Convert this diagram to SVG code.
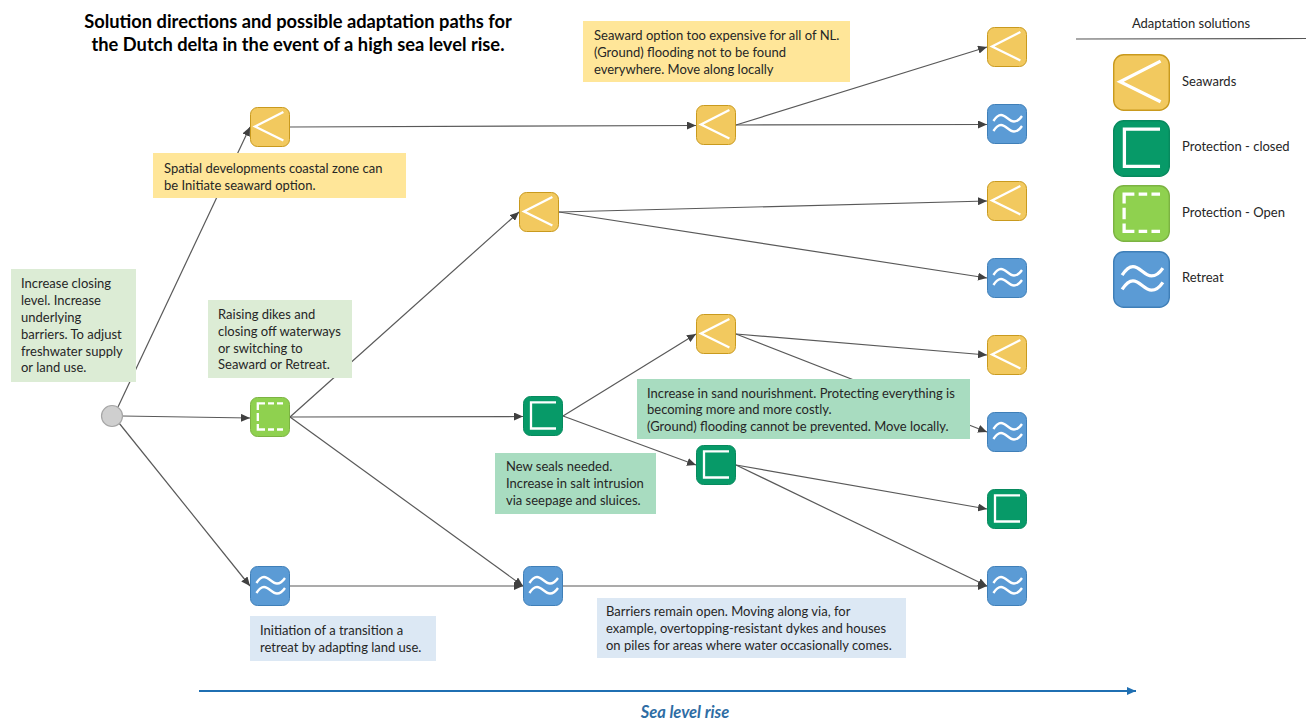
<svg xmlns="http://www.w3.org/2000/svg" xmlns:xlink="http://www.w3.org/1999/xlink" width="1306" height="720" viewBox="0 0 1306 720">
<style>
text{font-family:Lato,Carlito,"Noto Sans",sans-serif;font-size:13px;fill:#262626}
.title{font-size:18.300px;font-weight:700;fill:#000;text-anchor:middle}
.c line{stroke:#595959;stroke-width:1.2;marker-end:url(#a)}
.g{fill:none;stroke:#fff;stroke-width:2.3}
.box-y{fill:#ffe699}.box-g{fill:#dcecd5}.box-t{fill:#a8dcc0}.box-b{fill:#dce8f4}
</style>
<defs>
<marker id="a" markerWidth="10" markerHeight="8" refX="9" refY="4" orient="auto" markerUnits="userSpaceOnUse"><path d="M0 0L9 4L0 8Z" fill="#404040"/></marker>
<marker id="b" markerWidth="10" markerHeight="8" refX="9" refY="4" orient="auto" markerUnits="userSpaceOnUse"><path d="M0 0L9 4L0 8Z" fill="#1f6fb2"/></marker>
<symbol id="sea" viewBox="0 0 40 40" overflow="visible"><rect x=".5" y=".5" width="39" height="39" rx="7" fill="#f2c95f" stroke="#c99a1e"/><path class="g" d="M33.400 5L5 19.500L33.400 33.500"/></symbol>
<symbol id="closed" viewBox="0 0 40 40" overflow="visible"><rect x=".5" y=".5" width="39" height="39" rx="7" fill="#079a68" stroke="#078a5e"/><path class="g" d="M33 6.400H8V32.500H33"/></symbol>
<symbol id="open" viewBox="0 0 40 40" overflow="visible"><rect x=".5" y=".5" width="39" height="39" rx="7" fill="#8fd14f" stroke="#7cb342"/><path class="g" d="M33 6.400H27M24 6.400H18M15 6.400H7.800V13M7.800 16V24M7.800 27V32.500H15M18 32.500H24M27 32.500H33"/></symbol>
<symbol id="retreat" viewBox="0 0 40 40" overflow="visible"><rect x=".5" y=".5" width="39" height="39" rx="7" fill="#5b9bd5" stroke="#3f7fb8"/><path class="g" d="M6.400 17C9 13 11 11 14 11C19 11 22 17.500 27 17.500C30 17.500 33 15 35 12M6.400 27C9 23 11 21 14 21C19 21 22 27.500 27 27.500C30 27.500 33 25 35 22"/></symbol>
</defs>
<rect width="1306" height="720" fill="#fff"/>
<g id="title"><text class="title" x="298" y="28">Solution directions and possible adaptation paths for</text><text class="title" x="298" y="51">the Dutch delta in the event of a high sea level rise.</text></g>
<g id="connectors" class="c">
<line x1="118" y1="407" x2="250" y2="127"/>
<line x1="122" y1="416" x2="250" y2="418"/>
<line x1="119" y1="423" x2="250" y2="586"/>
<line x1="290" y1="127" x2="696" y2="125.500"/>
<line x1="736" y1="125" x2="987" y2="47"/>
<line x1="736" y1="125" x2="987" y2="124.500"/>
<line x1="290" y1="417" x2="519" y2="212"/>
<line x1="290" y1="417" x2="523" y2="416.500"/>
<line x1="290" y1="417" x2="523" y2="586"/>
<line x1="559" y1="212" x2="987" y2="201"/>
<line x1="559" y1="212" x2="987" y2="278"/>
<line x1="563" y1="416" x2="696" y2="334"/>
<line x1="563" y1="416" x2="696" y2="465"/>
<line x1="736" y1="334" x2="987" y2="355"/>
<line x1="736" y1="334" x2="987" y2="432"/>
<line x1="736" y1="465" x2="987" y2="509"/>
<line x1="736" y1="465" x2="987" y2="586"/>
<line x1="290" y1="586" x2="523" y2="586"/>
<line x1="563" y1="586" x2="987" y2="586"/>
</g>
<g id="note-increase"><rect class="box-g" x="11" y="269" width="125" height="113"/><text x="21" y="288">Increase closing</text><text x="21" y="305">level. Increase</text><text x="21" y="322">underlying</text><text x="21" y="339">barriers. To adjust</text><text x="21" y="356">freshwater supply</text><text x="21" y="372">or land use.</text></g>
<g id="note-spatial"><rect class="box-y" x="153" y="153" width="253" height="45"/><text x="164" y="173">Spatial developments coastal zone can</text><text x="164" y="190">be Initiate seaward option.</text></g>
<g id="note-raising"><rect class="box-g" x="208" y="300" width="144" height="78"/><text x="218" y="319">Raising dikes and</text><text x="218" y="336">closing off waterways</text><text x="218" y="353">or switching to</text><text x="218" y="369">Seaward or Retreat.</text></g>
<g id="note-seaward"><rect class="box-y" x="583" y="21" width="267" height="61"/><text x="594" y="40">Seaward option too expensive for all of NL.</text><text x="594" y="57">(Ground) flooding not to be found</text><text x="594" y="74">everywhere. Move along locally</text></g>
<g id="note-sand"><rect class="box-t" x="637" y="379" width="333" height="60"/><text x="647" y="398">Increase in sand nourishment. Protecting everything is</text><text x="647" y="414">becoming more and more costly.</text><text x="647" y="431">(Ground) flooding cannot be prevented. Move locally.</text></g>
<g id="note-seals"><rect class="box-t" x="495" y="453" width="161" height="61"/><text x="506" y="471">New seals needed.</text><text x="506" y="488">Increase in salt intrusion</text><text x="506" y="505">via seepage and sluices.</text></g>
<g id="note-transition"><rect class="box-b" x="250" y="616" width="186" height="45"/><text x="260" y="635">Initiation of a transition a</text><text x="260" y="652">retreat by adapting land use.</text></g>
<g id="note-barriers"><rect class="box-b" x="597" y="598" width="309" height="60"/><text x="606" y="616">Barriers remain open. Moving along via, for</text><text x="606" y="633">example, overtopping-resistant dykes and houses</text><text x="606" y="650">on piles for areas where water occasionally comes.</text></g>
<g id="start"><circle cx="112" cy="416" r="10.500" fill="#cfcfcf" stroke="#a6a6a6" stroke-width="1.200"/></g>
<g id="n1"><use href="#sea" x="250" y="107" width="40" height="40"/></g>
<g id="n2"><use href="#open" x="250" y="397" width="40" height="40"/></g>
<g id="n3"><use href="#retreat" x="250" y="566" width="40" height="40"/></g>
<g id="n4"><use href="#sea" x="696" y="105" width="40" height="40"/></g>
<g id="n5"><use href="#sea" x="519" y="192" width="40" height="40"/></g>
<g id="n6"><use href="#closed" x="523" y="396" width="40" height="40"/></g>
<g id="n7"><use href="#retreat" x="523" y="566" width="40" height="40"/></g>
<g id="n8"><use href="#sea" x="696" y="314" width="40" height="40"/></g>
<g id="n9"><use href="#closed" x="696" y="445" width="40" height="40"/></g>
<g id="n10"><use href="#sea" x="987" y="27" width="40" height="40"/></g>
<g id="n11"><use href="#retreat" x="987" y="104" width="40" height="40"/></g>
<g id="n12"><use href="#sea" x="987" y="181" width="40" height="40"/></g>
<g id="n13"><use href="#retreat" x="987" y="258" width="40" height="40"/></g>
<g id="n14"><use href="#sea" x="987" y="335" width="40" height="40"/></g>
<g id="n15"><use href="#retreat" x="987" y="412" width="40" height="40"/></g>
<g id="n16"><use href="#closed" x="987" y="489" width="40" height="40"/></g>
<g id="n17"><use href="#retreat" x="987" y="566" width="40" height="40"/></g>
<g id="legend"><text x="1191" y="28" text-anchor="middle">Adaptation solutions</text><line x1="1076" y1="39" x2="1306" y2="38.500" stroke="#555" stroke-width="1.200"/>
<use href="#sea" x="1113" y="54" width="57" height="57"/><text x="1182" y="86">Seawards</text>
<use href="#closed" x="1113" y="120" width="57" height="57"/><text x="1182" y="151">Protection - closed</text>
<use href="#open" x="1113" y="185" width="57" height="57"/><text x="1182" y="217">Protection - Open</text>
<use href="#retreat" x="1113" y="251" width="57" height="57"/><text x="1182" y="282">Retreat</text></g>
<g id="axis"><line x1="199" y1="691" x2="1136" y2="691" stroke="#1f6fb2" stroke-width="2" marker-end="url(#b)"/><text x="685" y="718" text-anchor="middle" style="font-size:16.500px;font-weight:700;font-style:italic;fill:#2e6da4">Sea level rise</text></g>
</svg>
